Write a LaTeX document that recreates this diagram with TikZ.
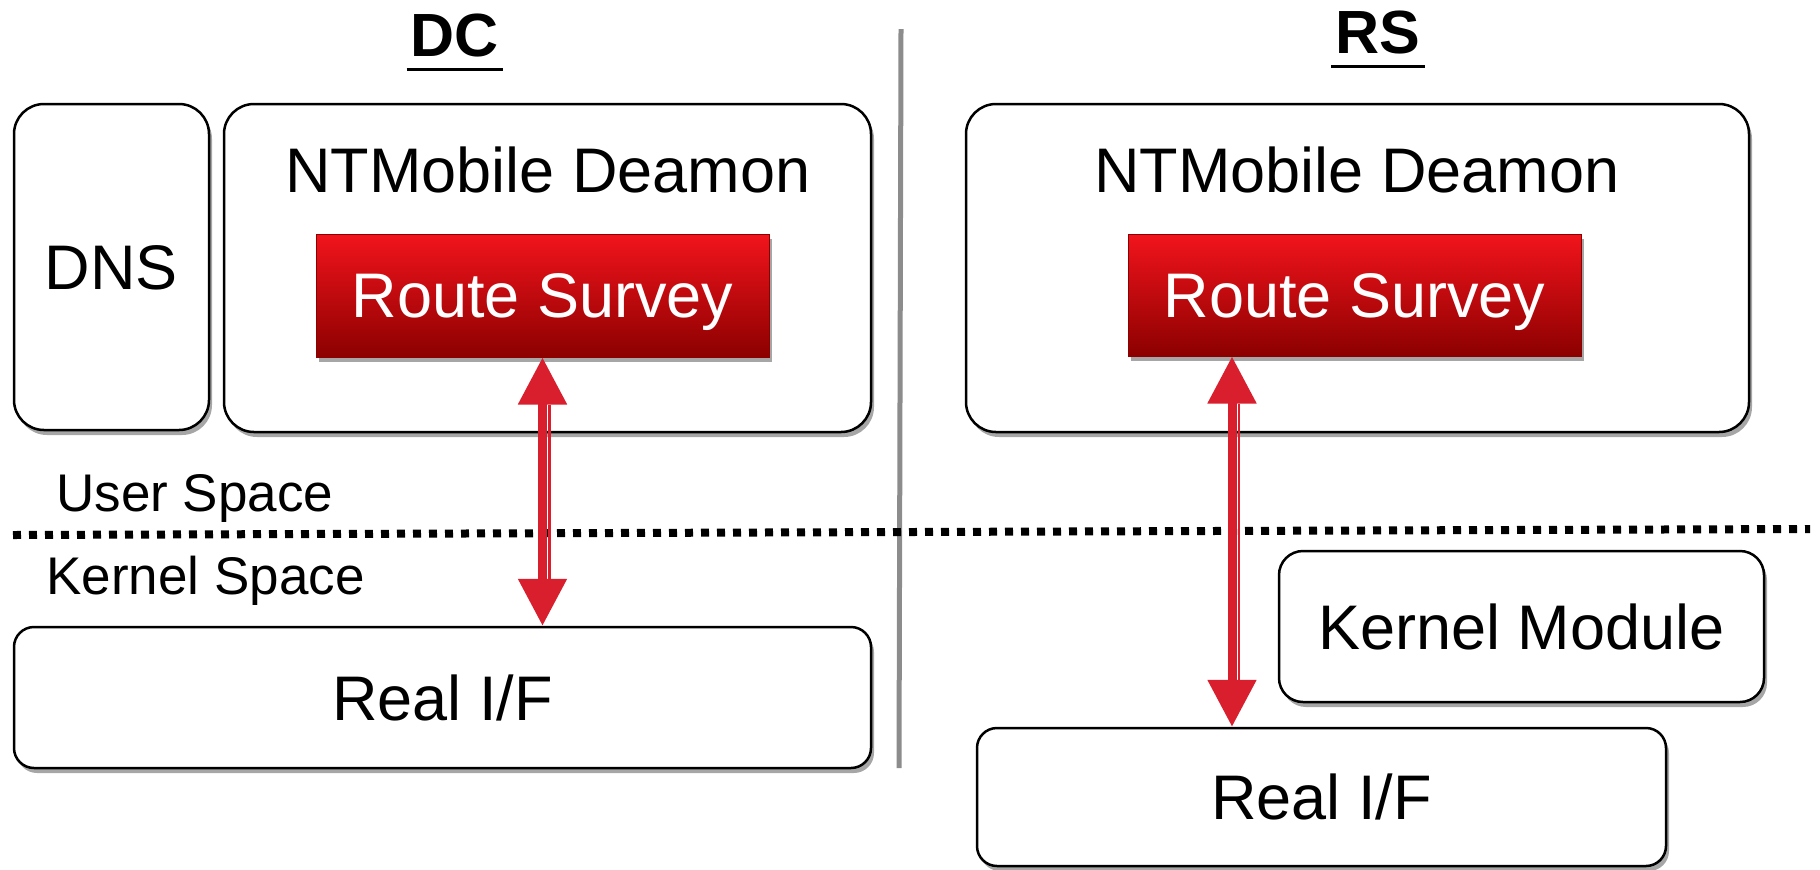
\documentclass[tikz,border=0pt]{standalone}
\usepackage{fontspec}
\setmainfont{Liberation Sans}
\usetikzlibrary{shadows,arrows.meta,calc}
\definecolor{arrowred}{HTML}{D91F2D}
\definecolor{rstop}{HTML}{F2141C}
\definecolor{rsmid}{HTML}{CC0000}
\definecolor{rsbot}{HTML}{8C0000}
\begin{document}
\begin{tikzpicture}[x=0.5pt,y=-0.5pt,
  mainfont/.style={font=\fontsize{31.5}{36}\selectfont},
  box/.style={draw=black, line width=1.25pt, fill=white, rounded corners=#1,
    drop shadow={shadow xshift=1.5pt, shadow yshift=-2.5pt, fill=black, opacity=0.35},
    inner sep=0pt, mainfont, text depth=0pt},
  box/.default=15pt,
  redbox/.style={draw=rsbot, line width=0.5pt, top color=rstop, middle color=rsmid, bottom color=rsbot,
    text=white, inner sep=0pt, mainfont, text depth=0pt,
    drop shadow={shadow xshift=1.5pt, shadow yshift=-2.5pt, fill=black, opacity=0.35}},
  spacelabel/.style={font=\fontsize{26.5}{30}\selectfont, inner sep=0pt},
  title/.style={font=\fontsize{30.5}{34}\selectfont\bfseries, inner sep=0pt},
  uline/.style={line width=1.5pt},
  link/.style={draw=arrowred, line width=4.5pt,
    {Triangle[length=23.5pt,width=23.5pt]}-{Triangle[length=23.5pt,width=23.5pt]}},
  thinlink/.style={draw=arrowred, line width=1.25pt},
  divider/.style={draw=black!45, line width=2.5pt},
  spaceline/.style={draw=black, line width=4pt, dash pattern=on 4pt off 4pt}
]
\useasboundingbox (0,0) rectangle (1820,869);

% titles
\node[title, anchor=base] (dc) at (455,56) {DC};
\draw[uline] ([xshift=-2pt,yshift=-6.5pt]dc.base west) -- ([xshift=2pt,yshift=-6.5pt]dc.base east);
\node[title, anchor=base] (rs) at (1378,53) {RS};
\draw[uline] ([xshift=-2pt,yshift=-6.5pt]rs.base west) -- ([xshift=2pt,yshift=-6.5pt]rs.base east);

% divider
\draw[divider] (901,29) -- (899,768);

% DC side
\node[box, minimum width=97.5pt, minimum height=163pt] (dns) at (111.5,267) {DNS};
\node[box, minimum width=323.5pt, minimum height=164pt] (ntm1) at (547.5,268) {};
\node[mainfont, anchor=base, inner sep=0pt] (ntm1t) at (548,192) {NTMobile Deamon};
\node[redbox, minimum width=226.5pt, minimum height=61.5pt] (rs1) at (542.5,295.5) {Route Survey};
\node[box=10pt, minimum width=428.5pt, minimum height=70.5pt] (rif1) at (442.5,697.5) {Real I/F};

% RS side
\node[box, minimum width=391.5pt, minimum height=164pt] (ntm2) at (1357.5,268) {};
\node[mainfont, anchor=base, inner sep=0pt] (ntm2t) at (1357,192) {NTMobile Deamon};
\node[redbox, minimum width=226.5pt, minimum height=61pt] (rs2) at (1354.5,295) {Route Survey};
\node[box=12pt, minimum width=242.5pt, minimum height=75.5pt] (km) at (1521.5,626.5) {Kernel Module};
\node[box=10pt, minimum width=344.5pt, minimum height=69pt] (rif2) at (1321.5,797) {Real I/F};

% user / kernel space
\draw[spaceline] (13,535) -- (1810,529);
\node[spacelabel, anchor=base west] (us) at (56,511) {User Space};
\node[spacelabel, anchor=base west] (ks) at (46,594) {Kernel Space};

% arrows
\draw[link] (rs1.south) -- (rs1.south |- rif1.north);
\draw[thinlink] ([xshift=3.5pt,yshift=-23.5pt]rs1.south) -- ([xshift=3.5pt,yshift=23.5pt]rs1.south |- rif1.north);
\coordinate (ax) at (1232,0);
\draw[link] (ax |- rs2.south) -- (ax |- rif2.north);
\draw[thinlink] ([xshift=3.5pt,yshift=-23.5pt]ax |- rs2.south) -- ([xshift=3.5pt,yshift=23.5pt]ax |- rif2.north);
\end{tikzpicture}
\end{document}
